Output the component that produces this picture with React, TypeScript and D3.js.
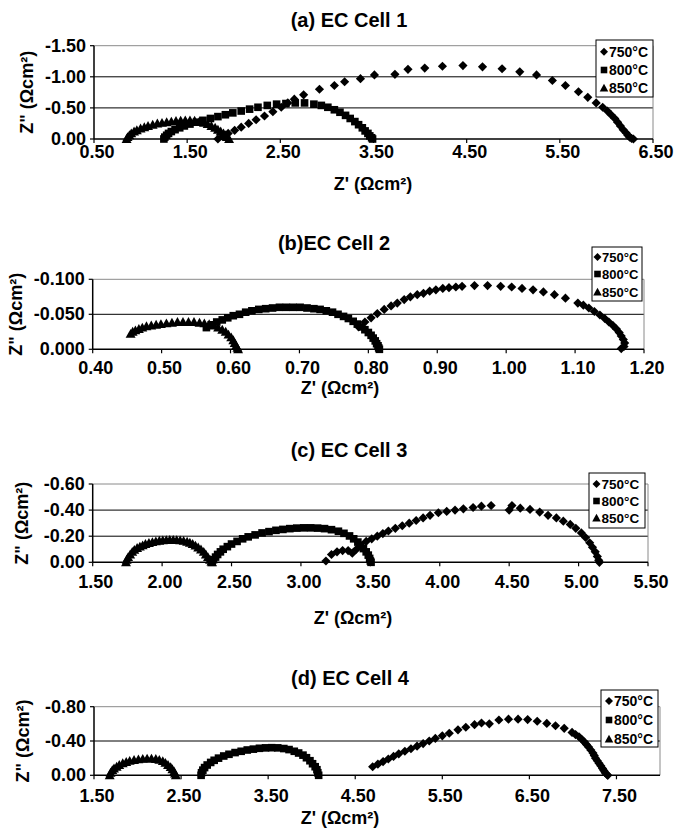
import React from 'react';
import * as d3 from 'd3';

// ---- data (Z' , Z'') ----
const temps = ['750°C', '800°C', '850°C'];

const cell1_750 = [[1.83,0],[1.88,-0.04],[1.94,-0.09],[2.01,-0.14],[2.08,-0.19],[2.16,-0.25],[2.24,-0.31],[2.33,-0.37],[2.42,-0.44],[2.51,-0.51],[2.58,-0.58],[2.65,-0.64],[2.75,-0.71],[2.92,-0.80],[3.08,-0.86],[3.19,-0.92],[3.36,-0.97],[3.51,-1.03],[3.73,-1.04],[3.87,-1.12],[4.05,-1.14],[4.24,-1.17],[4.46,-1.18],[4.67,-1.16],[4.88,-1.13],[5.07,-1.08],[5.25,-1.03],[5.42,-0.94],[5.56,-0.86],[5.70,-0.76],[5.80,-0.67],[5.89,-0.58],[5.96,-0.51],[6.01,-0.45],[6.05,-0.39],[6.09,-0.33],[6.12,-0.27],[6.15,-0.21],[6.18,-0.15],[6.21,-0.10],[6.23,-0.06],[6.25,-0.03],[6.27,-0.01],[6.29,0]];
const cell1_800 = [[1.25,0],[1.26,-0.03],[1.28,-0.06],[1.30,-0.09],[1.33,-0.12],[1.37,-0.15],[1.42,-0.18],[1.47,-0.21],[1.53,-0.24],[1.60,-0.27],[1.67,-0.30],[1.75,-0.33],[1.83,-0.36],[1.91,-0.39],[1.99,-0.42],[2.08,-0.45],[2.17,-0.48],[2.26,-0.51],[2.36,-0.54],[2.46,-0.56],[2.56,-0.57],[2.66,-0.58],[2.76,-0.58],[2.86,-0.56],[2.94,-0.54],[3.01,-0.51],[3.08,-0.47],[3.14,-0.43],[3.20,-0.38],[3.25,-0.33],[3.30,-0.28],[3.34,-0.23],[3.38,-0.18],[3.41,-0.13],[3.44,-0.09],[3.46,-0.05],[3.48,-0.02],[3.49,0]];
const cell1_850 = [[0.85,0],[0.86,-0.03],[0.88,-0.06],[0.90,-0.09],[0.93,-0.12],[0.96,-0.14],[1.00,-0.17],[1.04,-0.19],[1.08,-0.21],[1.13,-0.23],[1.18,-0.25],[1.23,-0.26],[1.28,-0.27],[1.33,-0.28],[1.38,-0.29],[1.43,-0.295],[1.48,-0.30],[1.53,-0.30],[1.58,-0.295],[1.63,-0.28],[1.68,-0.26],[1.72,-0.24],[1.76,-0.21],[1.80,-0.18],[1.83,-0.15],[1.86,-0.12],[1.89,-0.09],[1.91,-0.06],[1.93,-0.03],[1.95,0]];

const cell2_750 = [[0.786,-0.032],[0.795,-0.039],[0.804,-0.045],[0.813,-0.051],[0.823,-0.057],[0.833,-0.062],[0.842,-0.066],[0.852,-0.071],[0.861,-0.075],[0.871,-0.078],[0.880,-0.080],[0.889,-0.083],[0.898,-0.085],[0.908,-0.087],[0.917,-0.088],[0.927,-0.089],[0.936,-0.090],[0.954,-0.091],[0.973,-0.091],[0.992,-0.090],[1.008,-0.089],[1.023,-0.087],[1.039,-0.085],[1.054,-0.082],[1.070,-0.078],[1.086,-0.073],[1.104,-0.066],[1.112,-0.063],[1.120,-0.059],[1.128,-0.054],[1.136,-0.049],[1.143,-0.044],[1.149,-0.039],[1.155,-0.034],[1.160,-0.029],[1.164,-0.024],[1.167,-0.019],[1.170,-0.014],[1.172,-0.009],[1.171,-0.004],[1.167,-0.001]];
const cell2_800 = [[0.565,-0.031],[0.572,-0.035],[0.580,-0.039],[0.588,-0.042],[0.596,-0.045],[0.604,-0.048],[0.613,-0.050],[0.622,-0.053],[0.631,-0.055],[0.641,-0.057],[0.651,-0.058],[0.661,-0.059],[0.671,-0.060],[0.681,-0.060],[0.691,-0.060],[0.701,-0.060],[0.711,-0.059],[0.721,-0.058],[0.730,-0.057],[0.739,-0.055],[0.748,-0.053],[0.756,-0.050],[0.764,-0.047],[0.771,-0.044],[0.778,-0.040],[0.784,-0.036],[0.790,-0.032],[0.795,-0.028],[0.800,-0.024],[0.804,-0.020],[0.807,-0.016],[0.810,-0.012],[0.812,-0.008],[0.814,-0.005],[0.815,-0.002],[0.816,0]];
const cell2_850 = [[0.455,-0.022],[0.458,-0.025],[0.462,-0.027],[0.467,-0.029],[0.472,-0.031],[0.478,-0.033],[0.485,-0.034],[0.492,-0.035],[0.499,-0.036],[0.507,-0.037],[0.515,-0.038],[0.523,-0.039],[0.531,-0.039],[0.539,-0.039],[0.547,-0.039],[0.555,-0.038],[0.562,-0.037],[0.569,-0.036],[0.576,-0.034],[0.582,-0.031],[0.588,-0.028],[0.593,-0.025],[0.597,-0.021],[0.601,-0.017],[0.604,-0.013],[0.606,-0.009],[0.608,-0.005],[0.610,-0.002],[0.611,0]];

const cell3_750 = [[3.18,-0.01],[3.22,-0.06],[3.26,-0.08],[3.30,-0.09],[3.34,-0.09],[3.37,-0.07],[3.40,-0.10],[3.43,-0.13],[3.47,-0.16],[3.51,-0.18],[3.55,-0.20],[3.59,-0.22],[3.63,-0.24],[3.68,-0.26],[3.73,-0.28],[3.78,-0.30],[3.83,-0.32],[3.88,-0.34],[3.93,-0.36],[3.99,-0.38],[4.05,-0.39],[4.11,-0.40],[4.17,-0.41],[4.24,-0.42],[4.30,-0.43],[4.37,-0.435],[4.50,-0.40],[4.52,-0.435],[4.58,-0.415],[4.65,-0.405],[4.72,-0.385],[4.78,-0.36],[4.84,-0.34],[4.89,-0.315],[4.94,-0.29],[4.98,-0.26],[5.02,-0.225],[5.05,-0.19],[5.08,-0.15],[5.10,-0.115],[5.12,-0.08],[5.135,-0.045],[5.145,-0.015],[5.15,0]];
const cell3_800 = [[2.36,0],[2.37,-0.02],[2.385,-0.04],[2.40,-0.06],[2.42,-0.08],[2.44,-0.10],[2.47,-0.12],[2.50,-0.14],[2.54,-0.16],[2.58,-0.18],[2.62,-0.195],[2.67,-0.21],[2.72,-0.225],[2.77,-0.235],[2.82,-0.245],[2.87,-0.252],[2.92,-0.258],[2.97,-0.262],[3.02,-0.264],[3.07,-0.264],[3.12,-0.262],[3.17,-0.258],[3.22,-0.25],[3.27,-0.238],[3.31,-0.222],[3.35,-0.202],[3.38,-0.18],[3.41,-0.155],[3.43,-0.13],[3.45,-0.105],[3.47,-0.08],[3.485,-0.055],[3.495,-0.03],[3.50,-0.01],[3.505,0]];
const cell3_850 = [[1.74,0],[1.745,-0.02],[1.755,-0.04],[1.77,-0.06],[1.785,-0.08],[1.80,-0.095],[1.82,-0.11],[1.84,-0.12],[1.86,-0.13],[1.88,-0.14],[1.905,-0.148],[1.93,-0.155],[1.955,-0.16],[1.98,-0.165],[2.005,-0.168],[2.03,-0.17],[2.055,-0.171],[2.08,-0.171],[2.105,-0.17],[2.13,-0.168],[2.155,-0.164],[2.18,-0.158],[2.20,-0.15],[2.22,-0.14],[2.24,-0.128],[2.26,-0.114],[2.28,-0.098],[2.30,-0.08],[2.315,-0.06],[2.33,-0.04],[2.345,-0.02],[2.355,-0.005],[2.36,0]];

const cell4_750 = [[4.70,-0.10],[4.76,-0.13],[4.82,-0.16],[4.88,-0.19],[4.94,-0.22],[5.00,-0.25],[5.07,-0.28],[5.14,-0.31],[5.21,-0.34],[5.28,-0.37],[5.35,-0.40],[5.42,-0.43],[5.50,-0.46],[5.58,-0.49],[5.68,-0.53],[5.77,-0.56],[5.87,-0.59],[5.95,-0.61],[6.04,-0.60],[6.15,-0.645],[6.26,-0.655],[6.37,-0.655],[6.48,-0.65],[6.59,-0.63],[6.70,-0.605],[6.80,-0.578],[6.90,-0.548],[6.99,-0.50],[7.03,-0.475],[7.07,-0.45],[7.10,-0.42],[7.13,-0.39],[7.155,-0.36],[7.18,-0.33],[7.205,-0.295],[7.23,-0.26],[7.245,-0.23],[7.26,-0.20],[7.28,-0.17],[7.30,-0.14],[7.32,-0.11],[7.34,-0.08],[7.355,-0.055],[7.37,-0.03],[7.39,-0.01],[7.40,0]];
const cell4_800 = [[2.73,0],[2.735,-0.03],[2.75,-0.06],[2.77,-0.09],[2.80,-0.12],[2.84,-0.15],[2.88,-0.175],[2.93,-0.20],[2.99,-0.225],[3.05,-0.245],[3.12,-0.265],[3.19,-0.28],[3.26,-0.295],[3.33,-0.305],[3.40,-0.315],[3.47,-0.32],[3.54,-0.322],[3.61,-0.32],[3.68,-0.312],[3.74,-0.30],[3.80,-0.28],[3.85,-0.26],[3.90,-0.235],[3.94,-0.205],[3.98,-0.17],[4.01,-0.135],[4.04,-0.10],[4.06,-0.065],[4.07,-0.03],[4.08,0]];
const cell4_850 = [[1.68,0],[1.69,-0.03],[1.71,-0.06],[1.73,-0.08],[1.76,-0.10],[1.79,-0.12],[1.83,-0.14],[1.87,-0.155],[1.91,-0.168],[1.96,-0.178],[2.01,-0.186],[2.06,-0.192],[2.11,-0.195],[2.16,-0.195],[2.21,-0.19],[2.25,-0.18],[2.29,-0.165],[2.32,-0.145],[2.35,-0.12],[2.38,-0.095],[2.40,-0.07],[2.42,-0.045],[2.43,-0.02],[2.44,0]];

// tick values
const xTicks1 = [0.5, 1.5, 2.5, 3.5, 4.5, 5.5, 6.5];
const yTicks1 = [0, -0.5, -1.0, -1.5];
const xTicks2 = [0.4, 0.5, 0.6, 0.7, 0.8, 0.9, 1.0, 1.1, 1.2];
const yTicks2 = [0, -0.05, -0.1];
const xTicks3 = [1.5, 2.0, 2.5, 3.0, 3.5, 4.0, 4.5, 5.0, 5.5];
const yTicks3 = [0, -0.2, -0.4, -0.6];
const xTicks4 = [1.5, 2.5, 3.5, 4.5, 5.5, 6.5, 7.5];
const yTicks4 = [0, -0.4, -0.8];

// ---- marker shapes (d3 custom symbol types) ----
const symDiamond = {
  draw(ctx, size) {
    const r = Math.sqrt(size / 2);
    ctx.moveTo(0, -r); ctx.lineTo(r, 0); ctx.lineTo(0, r); ctx.lineTo(-r, 0); ctx.closePath();
  }
};
const symSquare = {
  draw(ctx, size) {
    const h = Math.sqrt(size) / 2;
    ctx.rect(-h, -h, h * 2, h * 2);
  }
};
const symTriangle = {
  draw(ctx, size) {
    const a = Math.sqrt(size / 1.8);
    ctx.moveTo(0, -a); ctx.lineTo(a, 0.8 * a); ctx.lineTo(-a, 0.8 * a); ctx.closePath();
  }
};
const shapes = [symDiamond, symSquare, symTriangle];
const sizes = [42, 58, 44];

const FONT = '"Liberation Sans", Arial, Helvetica, sans-serif';

const panels = [
  {
    title: '(a) EC Cell 1', series: [cell1_750, cell1_800, cell1_850],
    xDomain: [0.5, 6.5], yMin: -1.5, xTicks: xTicks1, yTicks: yTicks1, xDec: 2, yDec: 2,
    left: 94, right: 653, top: 45.7, bottom: 139,
    titleX: 349, titleY: 20, xLabelY: 151.7, xTitleX: 373, xTitleY: 184, yTitleX: 27,
    legend: { x: 596, y: 40, w: 57, h: 57, rows: [51.7, 70, 88], mdx: 8, tdx: 13, fs: 14 },
  },
  {
    title: '(b)EC Cell 2', series: [cell2_750, cell2_800, cell2_850],
    xDomain: [0.4, 1.2], yMin: -0.1, xTicks: xTicks2, yTicks: yTicks2, xDec: 2, yDec: 3,
    left: 92.7, right: 644, top: 279.3, bottom: 349.3,
    titleX: 334, titleY: 243, xLabelY: 368.3, xTitleX: 340, xTitleY: 388, yTitleX: 16,
    legend: { x: 592, y: 247, w: 50, h: 54, rows: [257, 274, 292], mdx: 5.5, tdx: 10, fs: 13 },
  },
  {
    title: '(c) EC Cell 3', series: [cell3_750, cell3_800, cell3_850],
    xDomain: [1.5, 5.5], yMin: -0.6, xTicks: xTicks3, yTicks: yTicks3, xDec: 2, yDec: 2,
    left: 92.7, right: 648, top: 484, bottom: 562.3,
    titleX: 349, titleY: 450, xLabelY: 581.7, xTitleX: 353, xTitleY: 618, yTitleX: 22,
    legend: { x: 589, y: 473, w: 56, h: 55, rows: [484, 501, 518], mdx: 7.5, tdx: 12.5, fs: 13.5 },
  },
  {
    title: '(d) EC Cell 4', series: [cell4_750, cell4_800, cell4_850],
    xDomain: [1.5, 8.0], yMin: -0.8, xTicks: xTicks4, yTicks: yTicks4, xDec: 2, yDec: 2,
    left: 94, right: 660, top: 706.7, bottom: 775.3,
    titleX: 350, titleY: 678, xLabelY: 796, xTitleX: 340, xTitleY: 818, yTitleX: 23,
    legend: { x: 601, y: 690, w: 57, h: 57, rows: [701, 720, 739], mdx: 8, tdx: 13, fs: 14 },
  },
];

const fmt = (v, dec) => (Math.abs(v) < 1e-9 ? 0 : v).toFixed(dec);

function Panel({ p }) {
  const x = d3.scaleLinear().domain(p.xDomain).range([p.left, p.right]);
  const y = d3.scaleLinear().domain([0, p.yMin]).range([p.bottom, p.top]);
  const lg = p.legend;

  return (
    <g>
      <text x={p.titleX} y={p.titleY} textAnchor="middle" dominantBaseline="central"
        fontSize={20} fontWeight="bold">{p.title}</text>

      {/* gridlines */}
      {p.yTicks.filter(t => t !== 0 && t !== p.yMin).map(t => (
        <line key={t} x1={p.left} x2={p.right} y1={y(t)} y2={y(t)} stroke="#000" strokeWidth={1} />
      ))}
      {/* plot area border */}
      <line x1={p.left} x2={p.right} y1={y(p.yMin)} y2={y(p.yMin)} stroke="#8a8a8a" strokeWidth={1} />
      <line x1={p.right} x2={p.right} y1={p.top} y2={p.bottom} stroke="#8a8a8a" strokeWidth={1} />

      {/* y axis */}
      <line x1={p.left} x2={p.left} y1={p.top} y2={p.bottom} stroke="#000" strokeWidth={1.5} />
      {p.yTicks.map(t => (
        <g key={t}>
          <line x1={p.left - 4} x2={p.left} y1={y(t)} y2={y(t)} stroke="#000" strokeWidth={1.2} />
          <text x={p.left - 8} y={y(t)} textAnchor="end" dominantBaseline="central"
            fontSize={18} fontWeight="bold">{fmt(t, p.yDec)}</text>
        </g>
      ))}

      {/* x axis */}
      <line x1={p.left} x2={p.right} y1={p.bottom} y2={p.bottom} stroke="#000" strokeWidth={1.5} />
      {p.xTicks.map(t => (
        <g key={t}>
          <line x1={x(t)} x2={x(t)} y1={p.bottom} y2={p.bottom + 4} stroke="#000" strokeWidth={1.2} />
          <text x={x(t) + 3} y={p.xLabelY} textAnchor="middle" dominantBaseline="central"
            fontSize={18} fontWeight="bold">{fmt(t, p.xDec)}</text>
        </g>
      ))}

      <text x={p.xTitleX} y={p.xTitleY} textAnchor="middle" dominantBaseline="central"
        fontSize={18} fontWeight="bold">Z' (Ωcm²)</text>
      <text transform={`translate(${p.yTitleX},${(p.top + p.bottom) / 2}) rotate(-90)`}
        textAnchor="middle" dominantBaseline="central" fontSize={18} fontWeight="bold">Z" (Ωcm²)</text>

      {/* series */}
      {p.series.map((s, i) => {
        const sym = d3.symbol().type(shapes[i]).size(sizes[i]);
        return (
          <g key={i}>
            {s.map((d, j) => (
              <path key={j} d={sym()} transform={`translate(${x(d[0])},${y(d[1])})`} fill="#000" />
            ))}
          </g>
        );
      })}

      {/* legend */}
      <rect x={lg.x} y={lg.y} width={lg.w} height={lg.h} fill="#fff" stroke="#000" strokeWidth={1} />
      {temps.map((t, i) => (
        <g key={t}>
          <path d={d3.symbol().type(shapes[i]).size(sizes[i] * 0.75)()}
            transform={`translate(${lg.x + lg.mdx},${lg.rows[i]})`} fill="#000" />
          <text x={lg.x + lg.tdx} y={lg.rows[i]} dominantBaseline="central"
            fontSize={lg.fs} fontWeight="bold">{t}</text>
        </g>
      ))}
    </g>
  );
}

export default function App() {
  return (
    <svg width={676} height={839} style={{ position: 'absolute', left: 0, top: 0, background: '#fff' }}
      fontFamily={FONT}>
      <rect width={676} height={839} fill="#fff" />
      {panels.map(p => <Panel key={p.title} p={p} />)}
    </svg>
  );
}
